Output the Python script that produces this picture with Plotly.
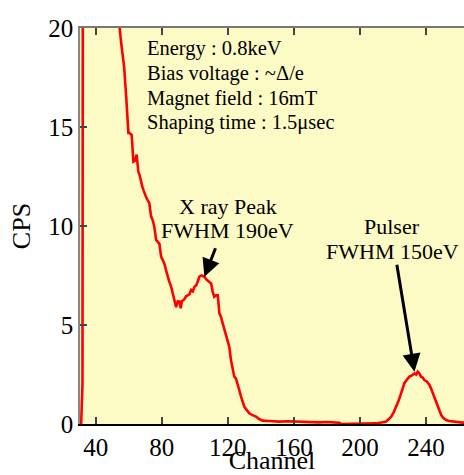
import plotly.graph_objects as go

# Spectrum data (channel, counts per second)
channel = [31.2, 32.0, 32.3, 40, 50, 54.5, 55.5, 57.2, 58.5, 59.8, 60.5, 61.8, 62.8, 63.8, 64.8,
           65.8, 66.5, 67.5, 68.2, 69.0, 69.5, 70.3, 71.5, 72.5, 73.5, 74.5, 75.5, 76.6, 78.6,
           79.6, 80.5, 81.6, 82.5, 83.6, 84.5, 85.7, 86.7, 87.7, 88.7, 89.7, 90.7, 91.5, 92.2,
           93.7, 94.7, 95.7, 96.7, 97.8, 98.8, 99.8, 100.8, 101.8, 102.8, 104.0, 105.8, 107.0,
           108.8, 109.9, 110.8, 111.8, 112.8, 113.9, 114.9, 115.9, 116.9, 117.9, 118.9, 119.9,
           120.9, 121.9, 122.9, 123.9, 124.9, 125.9, 127.0, 128.0, 129.0, 130.0, 131.5, 133.0,
           135.0, 137.1, 139.0, 141.1, 145.0, 151.2, 156.0, 161.3, 166.0, 170.0, 175.0, 180.0,
           185.0, 187.6, 188.5, 209.0, 209.8, 213.0, 215.8, 217.5, 218.9, 220.5, 221.9, 223.5,
           224.9, 226.9, 228.5, 229.9, 231.5, 233.0, 234.0, 235.0, 236.0, 237.0, 238.0, 239.0,
           240.5, 242.1, 243.0, 244.1, 245.5, 247.1, 248.0, 249.2, 250.5, 252.2, 254.0, 256.2,
           259.0, 262.2, 264.0]
cps = [0.0, 2.0, 30.0, 40.0, 28.0, 20.0, 19.2, 18.05, 16.5, 14.7, 14.7, 14.6, 13.25, 13.3, 13.6,
       12.75, 12.6, 12.2, 12.0, 11.8, 11.65, 11.5, 11.3, 11.15, 10.5, 10.3, 9.96, 9.3, 9.1,
       8.45, 8.3, 8.1, 7.8, 7.44, 7.2, 6.93, 6.6, 6.26, 5.9, 6.2, 6.18, 5.85, 6.2,
       6.3, 6.45, 6.5, 6.55, 6.77, 6.7, 6.93, 7.0, 7.2, 7.44, 7.5, 7.44, 7.3,
       7.19, 7.1, 6.7, 6.43, 6.5, 6.5, 5.6, 5.4, 5.08, 4.8, 4.41, 4.2,
       3.9, 3.23, 2.8, 2.39, 2.3, 2.06, 1.7, 1.38, 1.1, 0.87, 0.7, 0.54,
       0.45, 0.37, 0.25, 0.17, 0.15, 0.12, 0.14, 0.12, 0.10, 0.12, 0.08, 0.10,
       0.07, 0.06, 0.0, 0.0, 0.03, 0.08, 0.12, 0.25, 0.37, 0.6, 0.87, 1.2,
       1.55, 2.06, 2.25, 2.39, 2.45, 2.56, 2.5, 2.64, 2.55, 2.39, 2.35, 2.22,
       2.15, 1.97, 1.8, 1.55, 1.25, 0.96, 0.7, 0.45, 0.3, 0.20, 0.15, 0.12,
       0.10, 0.07, 0.07]

x_ticks = [40, 80, 120, 160, 200, 240]
y_ticks = [0, 5, 10, 15, 20]

info_lines = ["Energy : 0.8keV", "Bias voltage : ~Δ/e", "Magnet field : 16mT",
              "Shaping time : 1.5μsec"]
xray_lines = ["X ray Peak", "FWHM 190eV"]
pulser_lines = ["Pulser", "FWHM 150eV"]

FONT = "Liberation Serif"

fig = go.Figure()
fig.add_trace(go.Scatter(x=channel, y=cps, mode="lines",
                         line=dict(color="#FF0000", width=2.6), showlegend=False,
                         hoverinfo="skip"))

annotations = []
info_y = [18.95, 17.68, 16.45, 15.22]
for txt, yy in zip(info_lines, info_y):
    annotations.append(dict(x=69.8, y=yy, text=txt, showarrow=False, xanchor="left",
                            yanchor="middle", font=dict(family=FONT, size=20.5, color="black")))
for txt, yy in zip(xray_lines, [11.0, 9.75]):
    annotations.append(dict(x=119.9, y=yy, text=txt, showarrow=False, xanchor="center",
                            yanchor="middle", font=dict(family=FONT, size=22, color="black")))
for txt, yy in zip(pulser_lines, [9.95, 8.7]):
    annotations.append(dict(x=219.5, y=yy, text=txt, showarrow=False, xanchor="center",
                            yanchor="middle", font=dict(family=FONT, size=22, color="black")))
# arrows
annotations.append(dict(x=105.8, y=7.44, ax=112.9, ay=8.95, axref="x", ayref="y",
                        xref="x", yref="y", text="", showarrow=True, arrowhead=2,
                        arrowsize=1.2, arrowwidth=3, arrowcolor="black"))
annotations.append(dict(x=233.0, y=2.64, ax=222.2, ay=8.12, axref="x", ayref="y",
                        xref="x", yref="y", text="", showarrow=True, arrowhead=2,
                        arrowsize=1.2, arrowwidth=3, arrowcolor="black"))

fig.update_layout(
    width=464, height=475,
    margin=dict(l=80, r=0, t=28, b=51, autoexpand=False),
    paper_bgcolor="white",
    plot_bgcolor="#FCFBC6",
    font=dict(family=FONT, color="black"),
    annotations=annotations,
    xaxis=dict(range=[30.5, 263], tickvals=x_ticks, ticks="inside", ticklen=7,
               tickcolor="#444", tickwidth=1.5, showline=True, linecolor="black",
               linewidth=2, showgrid=False, zeroline=False, automargin=False,
               tickfont=dict(family=FONT, size=25),
               title=dict(text="Channel", font=dict(family=FONT, size=26), standoff=3)),
    xaxis2=dict(matches="x", overlaying="x", side="top", tickvals=x_ticks,
                ticks="inside", ticklen=7, tickcolor="#444", tickwidth=1.5,
                showticklabels=False, showline=True, linecolor="#777", linewidth=1.5,
                showgrid=False, zeroline=False, range=[30.5, 263], automargin=False),
    yaxis=dict(range=[0, 20], tickvals=y_ticks, ticks="inside", ticklen=7,
               tickcolor="#444", tickwidth=1.5, showline=True, linecolor="#888",
               linewidth=1.5, showgrid=False, zeroline=False, automargin=False,
               tickfont=dict(family=FONT, size=25),
               title=dict(text="CPS", font=dict(family=FONT, size=26), standoff=10)),
)
fig.add_trace(go.Scatter(x=[None], y=[None], xaxis="x2", showlegend=False))

fig.write_html("out.html", config={"displayModeBar": False},
               post_script="document.body.style.margin='0';document.body.style.padding='0';")
